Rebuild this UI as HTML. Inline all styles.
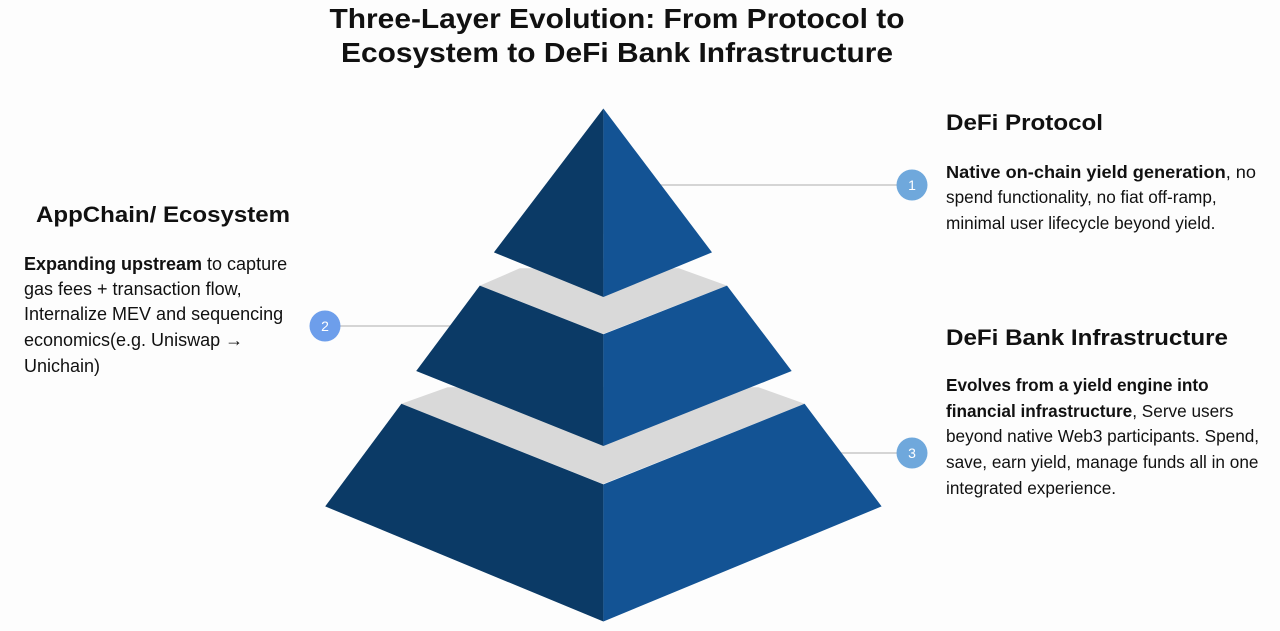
<!DOCTYPE html>
<html><head><meta charset="utf-8"><style>
html,body{margin:0;padding:0;background:#fdfdfd;}
svg{display:block;}
text{font-family:"Liberation Sans",Arial,sans-serif;fill:#111;}
.h{font-size:22px;font-weight:bold;}
.b{font-size:18px;}
.r{font-size:17.2px;}
.t{font-size:28px;font-weight:bold;}
.n{font-size:14px;fill:#fff;text-anchor:middle;}
</style></head><body>
<svg width="1280" height="631" viewBox="0 0 1280 631">
<rect width="1280" height="631" fill="#fdfdfd"/>
<text class="t" x="617" y="28" text-anchor="middle" textLength="575" lengthAdjust="spacingAndGlyphs">Three-Layer Evolution: From Protocol to</text>
<text class="t" x="617" y="62" text-anchor="middle" textLength="552" lengthAdjust="spacingAndGlyphs">Ecosystem to DeFi Bank Infrastructure</text>

<line x1="660" y1="185" x2="900" y2="185" stroke="#c8c8c8" stroke-width="1.5"/>
<line x1="338" y1="326" x2="450" y2="326" stroke="#c8c8c8" stroke-width="1.5"/>
<line x1="840" y1="453" x2="900" y2="453" stroke="#c8c8c8" stroke-width="1.5"/>

<polygon points="519.8,268.3 678.9,268.3 727,285.6 603,334 479.8,285.6" fill="#d9d9d9"/>
<polygon points="447.6,387.2 758.4,387.2 804.6,403.8 603,484 401.4,403.8" fill="#d9d9d9"/>

<polygon points="603.4,108.5 493.9,252.4 603.4,297" fill="#0b3a66"/>
<polygon points="603.4,108.5 712,252.4 603.4,297" fill="#135394"/>
<polygon points="479.8,285.6 603.4,334.3 603.4,446 416.2,371" fill="#0b3a66"/>
<polygon points="727,285.6 603.4,334.3 603.4,446 791.7,371" fill="#135394"/>
<polygon points="401.4,403.8 603.4,484.4 603.4,621.5 325.2,506.4" fill="#0b3a66"/>
<polygon points="804.6,403.8 603.4,484.4 603.4,621.5 881.6,506.4" fill="#135394"/>

<circle cx="912" cy="185" r="15.5" fill="#6fa8dc"/><text class="n" x="912" y="190">1</text>
<circle cx="325" cy="326" r="15.5" fill="#6d9eeb"/><text class="n" x="325" y="331">2</text>
<circle cx="912" cy="453" r="15.5" fill="#6fa8dc"/><text class="n" x="912" y="458">3</text>

<text class="h" x="946" y="130" textLength="157" lengthAdjust="spacingAndGlyphs">DeFi Protocol</text>
<text class="r" x="946" y="178" textLength="310" lengthAdjust="spacingAndGlyphs"><tspan font-weight="bold">Native on-chain yield generation</tspan>, no</text>
<text class="r" x="946" y="203">spend functionality, no fiat off-ramp,</text>
<text class="r" x="946" y="229">minimal user lifecycle beyond yield.</text>

<text class="h" x="36" y="222" textLength="254" lengthAdjust="spacingAndGlyphs">AppChain/ Ecosystem</text>
<text class="b" x="24" y="270"><tspan font-weight="bold">Expanding upstream</tspan> to capture</text>
<text class="b" x="24" y="295">gas fees + transaction flow,</text>
<text class="b" x="24" y="320">Internalize MEV and sequencing</text>
<text class="b" x="24" y="346">economics(e.g. Uniswap →</text>
<text class="b" x="24" y="372">Unichain)</text>

<text class="h" x="946" y="345" textLength="282" lengthAdjust="spacingAndGlyphs">DeFi Bank Infrastructure</text>
<text class="r" x="946" y="391" font-weight="bold">Evolves from a yield engine into</text>
<text class="r" x="946" y="417"><tspan font-weight="bold">financial infrastructure</tspan>, Serve users</text>
<text class="r" x="946" y="442">beyond native Web3 participants. Spend,</text>
<text class="r" x="946" y="468">save, earn yield, manage funds all in one</text>
<text class="r" x="946" y="494">integrated experience.</text>
</svg>
</body></html>
